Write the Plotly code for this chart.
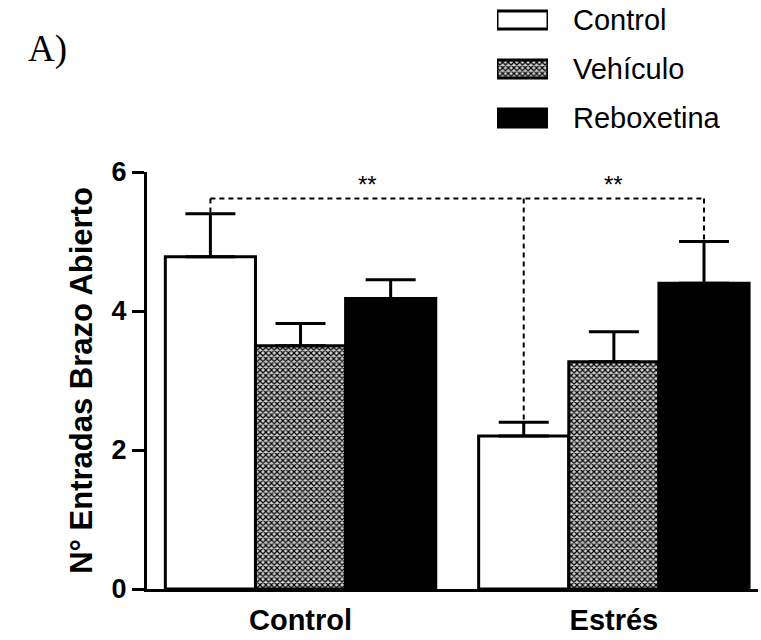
import plotly.graph_objects as go

groups = ["Control", "Estrés"]
series = ["Control", "Vehículo", "Reboxetina"]
means = {
    "Control": [4.78, 2.2],
    "Vehículo": [3.5, 3.27],
    "Reboxetina": [4.18, 4.4],
}
sems = {
    "Control": [0.62, 0.2],
    "Vehículo": [0.32, 0.43],
    "Reboxetina": [0.27, 0.6],
}
y_ticks = [0, 2, 4, 6]
sig_level = 5.62
sig_label_level = 5.82
sig_text = "**"

BARGAP = 0.137
n_series = len(series)
bar_w = (1 - BARGAP) / n_series

fills = {"Control": "white", "Vehículo": "white", "Reboxetina": "black"}
patterns = {"Control": "", "Vehículo": "x", "Reboxetina": ""}

H_PLOT = 417.0
H_PAPER = 589.0
main_top = H_PLOT / H_PAPER

pat = dict(size=4, solidity=0.5, fgcolor="black", bgcolor="#d0d0d0", fillmode="replace")

fig = go.Figure()
for s in series:
    fig.add_trace(go.Bar(
        name=s, x=groups, y=means[s],
        error_y=dict(type="data", array=sems[s], symmetric=False,
                     arrayminus=[0] * len(groups), color="black",
                     thickness=3, width=25),
        marker=dict(color=fills[s], line=dict(color="black", width=3),
                    pattern=dict(shape=patterns[s], **pat)),
        showlegend=False,
    ))

# legend built as an inset of swatches (one trace per series)
for s in series:
    fig.add_trace(go.Bar(
        x=[1], y=[s], orientation="h", width=0.37,
        marker=dict(color=fills[s], line=dict(color="black", width=3),
                    pattern=dict(shape=patterns[s], **pat)),
        xaxis="x2", yaxis="y2", showlegend=False, hoverinfo="skip",
    ))

def center(g_idx, s_idx):
    return g_idx + (s_idx - (n_series - 1) / 2) * bar_w

def top(g_idx, s):
    return means[s][g_idx] + sems[s][g_idx]

# significance brackets
x_a = center(0, 0)
x_b = center(1, 0)
x_c = center(1, 2)
dash = dict(color="black", width=2, dash="5px,4px")
fig.add_shape(type="line", x0=x_a, x1=x_c, y0=sig_level, y1=sig_level, line=dash)
fig.add_shape(type="line", x0=x_a, x1=x_a, y0=sig_level, y1=top(0, "Control"), line=dash)
fig.add_shape(type="line", x0=x_b, x1=x_b, y0=sig_level, y1=top(1, "Control"), line=dash)
fig.add_shape(type="line", x0=x_c, x1=x_c, y0=sig_level, y1=top(1, "Reboxetina"), line=dash)
for xm in [(x_a + x_b) / 2, (x_b + x_c) / 2]:
    fig.add_annotation(x=xm, y=sig_label_level, text=sig_text, showarrow=False,
                       font=dict(family="Liberation Sans", size=24, color="black"))

fig.add_annotation(xref="paper", yref="paper", x=-0.198, y=1 - 26 / H_PAPER,
                   xanchor="left", yanchor="top", text="A)", showarrow=False,
                   font=dict(family="Liberation Serif", size=37, color="black"))

bold = dict(family="Liberation Sans", color="black", weight="bold")
fig.update_layout(
    width=761, height=640,
    margin=dict(l=147, r=3, t=0, b=51, autoexpand=False),
    paper_bgcolor="white", plot_bgcolor="white",
    barmode="group", bargap=BARGAP, bargroupgap=0,
    xaxis=dict(range=[-0.49, 1.46], showline=True, linecolor="black", linewidth=3,
               ticks="", showgrid=False, zeroline=False, ticklabelstandoff=3,
               automargin=False,
               tickfont=dict(size=29, **bold)),
    yaxis=dict(domain=[0, main_top], range=[0, 6], tickvals=y_ticks, showline=True,
               linecolor="black", linewidth=3, automargin=False,
               ticks="outside", ticklen=12, tickwidth=3, tickcolor="black",
               showgrid=False, zeroline=False,
               tickfont=dict(size=27, **bold),
               title=dict(text="N° Entradas Brazo Abierto", standoff=10,
                          font=dict(size=31, **bold))),
    xaxis2=dict(domain=[(497 - 147) / 611, (548 - 147) / 611], range=[0, 1],
                visible=False, anchor="y2", automargin=False),
    yaxis2=dict(domain=[1 - 142.5 / H_PAPER, 1], range=[2.5, -20 / 49], anchor="x2",
                side="right", showline=False, showgrid=False, zeroline=False, ticks="",
                ticklabelstandoff=24, automargin=False,
                categoryorder="array", categoryarray=series,
                tickfont=dict(family="Liberation Sans", size=29, color="black")),
)

fig.write_html("out.html")
